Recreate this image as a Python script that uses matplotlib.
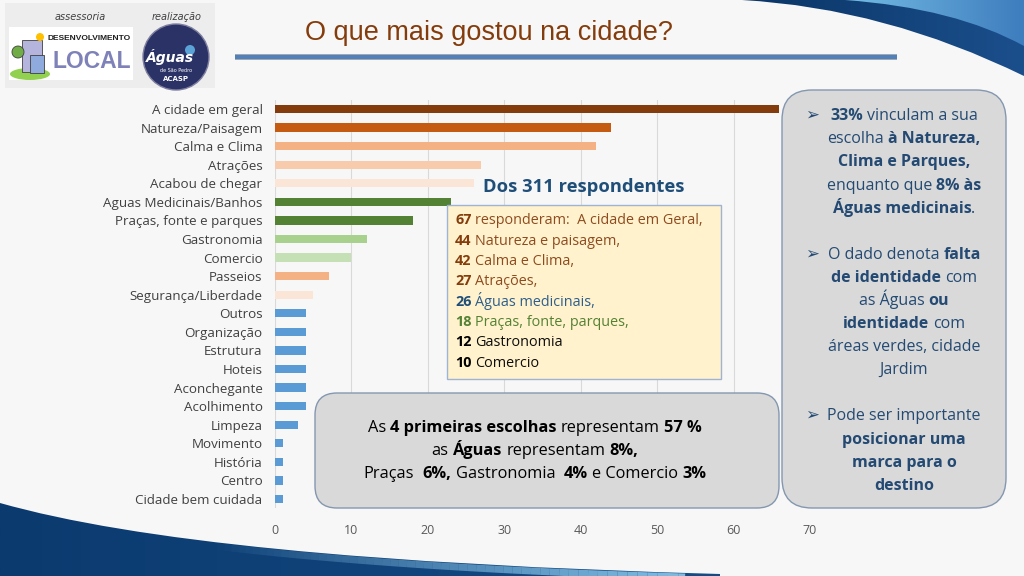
import numpy as np
import matplotlib.pyplot as plt
from matplotlib.path import Path
from matplotlib.patches import PathPatch, FancyBboxPatch, Rectangle, Circle, Ellipse
from matplotlib.collections import LineCollection
from matplotlib.colors import LinearSegmentedColormap

# ---- data ----
categories = ['A cidade em geral', 'Natureza/Paisagem', 'Calma e Clima', 'Atrações',
              'Acabou de chegar', 'Aguas Medicinais/Banhos', 'Praças, fonte e parques',
              'Gastronomia', 'Comercio', 'Passeios', 'Segurança/Liberdade', 'Outros',
              'Organização', 'Estrutura', 'Hoteis', 'Aconchegante', 'Acolhimento',
              'Limpeza', 'Movimento', 'História', 'Centro', 'Cidade bem cuidada']
values = [66, 44, 42, 27, 26, 23, 18, 12, 10, 7, 5, 4, 4, 4, 4, 4, 4, 3, 1, 1, 1, 1]
bar_colors = ['#843C0C', '#C55A11', '#F4B183', '#F8CBAD', '#FBE5D6', '#548235',
              '#548235', '#A9D18E', '#C5E0B4', '#F4B183', '#FBE5D6'] + ['#5B9BD5'] * 11
xticks = [0, 10, 20, 30, 40, 50, 60, 70]

FONT = ['Open Sans', 'DejaVu Sans']
BR, BRT = '#843C0C', '#8E4B20'
BL, BLT = '#1F4E79', '#2E5E8E'
GR = '#548235'
NAVY = '#244A73'

fig = plt.figure(figsize=(10.24, 5.76), dpi=100, facecolor='#F7F7F7')

# background layer in pixel coordinates
bg = fig.add_axes([0, 0, 1, 1], zorder=0)
bg.set_autoscale_on(False)
bg.set_xlim(0, 1024)
bg.set_ylim(576, 0)
bg.axis('off')


def grad_fill(ax, verts, codes, c1, c2, extent, z):
    patch = PathPatch(Path(verts, codes), facecolor='none', edgecolor='none')
    ax.add_patch(patch)
    g = np.linspace(0, 1, 256).reshape(1, -1)
    cmap = LinearSegmentedColormap.from_list('g', [c1, c2])
    im = ax.imshow(g, extent=extent, cmap=cmap, aspect='auto', zorder=z)
    im.set_clip_path(patch)


M, L, C3, CL = Path.MOVETO, Path.LINETO, Path.CURVE3, Path.CLOSEPOLY
# top right swoosh
grad_fill(bg, [(742, 0), (1024, 0), (1024, 76), (885, 8), (742, 0), (742, 0)],
          [M, L, L, C3, C3, CL], '#0A3566', '#1B4F8C', (742, 1024, 80, 0), 1)
grad_fill(bg, [(845, 0), (1024, 0), (1024, 46), (955, 8), (845, 0), (845, 0)],
          [M, L, L, C3, C3, CL], '#74BCE4', '#3E7DBE', (845, 1024, 50, 0), 2)
# bottom left swoosh
p0, pc, p1 = np.array([0, 503]), np.array([200, 560]), np.array([720, 574])
grad_fill(bg, [tuple(p0), tuple(pc), tuple(p1), (720, 576), (0, 576), tuple(p0)],
          [M, C3, C3, L, L, CL], '#0B3A6E', '#154C86', (0, 720, 576, 500), 1)
t = np.linspace(0.4, 1, 60)[:, None]
edge = (1 - t) ** 2 * p0 + 2 * t * (1 - t) * pc + t ** 2 * p1
pts = np.column_stack([edge[:, 0], edge[:, 1] + 4]).reshape(-1, 1, 2)
segs = np.concatenate([pts[:-1], pts[1:]], axis=1)
alphas = np.linspace(0, 0.95, len(segs))
lc = LineCollection(segs, colors=[(0.55, 0.79, 0.93, a) for a in alphas], linewidths=5,
                    zorder=2)
bg.add_collection(lc)

# ---- bar chart ----
ax = fig.add_axes([275 / 1024, (576 - 508.3) / 576, 535 / 1024, 408.6 / 576], zorder=1)
ax.patch.set_alpha(0)
y = np.arange(len(categories))
ax.barh(y, values, height=0.45, color=bar_colors, zorder=2)
ax.set_ylim(len(categories) - 0.5, -0.5)
ax.set_xlim(0, 70)
ax.set_xticks(xticks)
ax.set_xticklabels([str(v) for v in xticks], fontsize=9, color='#595959', family=FONT)
ax.set_yticks(y)
ax.set_yticklabels(categories, fontsize=9.6, color='#404040', family=FONT)
ax.tick_params(axis='y', length=0, pad=9)
ax.tick_params(axis='x', length=0, pad=11)
ax.grid(axis='x', color='#D9D9D9', lw=0.8, zorder=0)
for s in ax.spines.values():
    s.set_visible(False)

# ---- overlay: boxes and texts ----
ov = fig.add_axes([0, 0, 1, 1], zorder=3)
ov.set_xlim(0, 1024)
ov.set_ylim(576, 0)
ov.axis('off')
ov.patch.set_alpha(0)
rend = fig.canvas.get_renderer()


def text_w(s, bold, size):
    t = ov.text(0, 0, s, fontsize=size, weight='bold' if bold else 'normal', family=FONT)
    w = t.get_window_extent(renderer=rend).width
    t.remove()
    return w


def rich(x, y, runs, size, ha='left'):
    sp = text_w('a a', False, size) - text_w('aa', False, size)
    pieces, total = [], 0
    for s, b, c in runs:
        core = s.strip(' ')
        lead = len(s) - len(s.lstrip(' '))
        trail = len(s) - len(s.rstrip(' '))
        w = text_w(core, b, size)
        pieces.append((total + lead * sp, core, b, c))
        total += lead * sp + w + trail * sp
    x0 = x - total / 2 if ha == 'center' else x
    for off, core, b, c in pieces:
        ov.text(x0 + off, y, core, fontsize=size, weight='bold' if b else 'normal',
                color=c, family=FONT, va='baseline', ha='left')


# logos
ov.add_patch(Rectangle((5, 3), 210, 85, facecolor='#EDEDED', edgecolor='none'))
ov.text(80, 17, 'assessoria', fontsize=7, style='italic', color='#404040', ha='center', va='center')
ov.text(177, 17, 'realização', fontsize=7, style='italic', color='#404040', ha='center', va='center')
ov.add_patch(Rectangle((9, 27), 124, 53, facecolor='white', edgecolor='none'))
ov.add_patch(Ellipse((30, 74), 40, 12, facecolor='#92D050', edgecolor='none'))
ov.add_patch(Rectangle((22, 40), 20, 32, facecolor='#B4B4DC', edgecolor='#404040', lw=0.6))
ov.add_patch(Rectangle((30, 55), 14, 18, facecolor='#8FAADC', edgecolor='#404040', lw=0.6))
ov.add_patch(Circle((18, 52), 6, facecolor='#70AD47', edgecolor='#404040', lw=0.6))
ov.add_patch(Circle((40, 37), 4, facecolor='#FFC000', edgecolor='none'))
ov.text(48, 39, 'DESENVOLVIMENTO', fontsize=6, weight='bold', color='#202020',
        family='Liberation Sans', va='center')
ov.text(53, 61, 'LOCAL', fontsize=16.5, weight='bold', color='#7F82B8', family='Liberation Sans',
        va='center')
ov.add_patch(Circle((176, 57), 33, facecolor='#2B3366', edgecolor='#7F7FA0', lw=1))
ov.text(170, 57, 'Águas', fontsize=10, weight='bold', style='italic', color='white',
        ha='center', va='center')
ov.text(176, 70, 'de São Pedro', fontsize=3.5, color='white', ha='center', va='center')
ov.text(176, 79, 'ACASP', fontsize=5, weight='bold', color='white', ha='center', va='center')
ov.add_patch(Circle((190, 50), 5, facecolor='#5BA3D6', edgecolor='none'))

# title
ov.text(305, 33, 'O que mais gostou na cidade?', fontsize=19.5, color='#843C0C',
        family='Liberation Sans', va='center', ha='left')
ov.plot([235, 897], [57, 57], color='#A6A6A6', lw=4.2, solid_capstyle='butt')
ov.plot([235, 897], [57, 57], color='#4F81BD', lw=3, solid_capstyle='butt')

# "Dos 311 respondentes"
ov.text(584, 187, 'Dos 311 respondentes', fontsize=13.2, weight='bold', color=BL,
        family=FONT, ha='center', va='center')

# yellow box
ov.add_patch(Rectangle((447, 205), 274, 174, facecolor='#FFF2CC', edgecolor='#9FB4D4', lw=1))
yellow_lines = [
    [('67', True, BR), (' responderam:  A cidade em Geral,', False, BRT)],
    [('44', True, BR), (' Natureza e paisagem,', False, BRT)],
    [('42', True, BR), (' Calma e Clima,', False, BRT)],
    [('27', True, BR), (' Atrações,', False, BRT)],
    [('26', True, BL), (' Águas medicinais,', False, BLT)],
    [('18', True, GR), (' Praças, fonte, parques,', False, GR)],
    [('12', True, '#000000'), (' Gastronomia', False, '#0D0D0D')],
    [('10', True, '#000000'), (' Comercio', False, '#0D0D0D')],
]
for i, runs in enumerate(yellow_lines):
    rich(455, 224.5 + i * 20.3, runs, 10.4)

# bottom grey box
ov.add_patch(FancyBboxPatch((315, 393), 464, 115, boxstyle='round,pad=0,rounding_size=22',
                            facecolor='#D9D9D9', edgecolor='#8497B0', lw=1))
bottom_lines = [
    [('As ', False, 'k'), ('4 primeiras escolhas', True, 'k'), (' representam ', False, 'k'), ('57 %', True, 'k')],
    [('as ', False, 'k'), ('Águas', True, 'k'), (' representam ', False, 'k'), ('8%,', True, 'k')],
    [('Praças  ', False, 'k'), ('6%,', True, 'k'), (' Gastronomia  ', False, 'k'), ('4%', True, 'k'),
     (' e Comercio ', False, 'k'), ('3%', True, 'k')],
]
for i, runs in enumerate(bottom_lines):
    rich(535, 432 + i * 23, runs, 11.8, ha='center')

# right grey box
ov.add_patch(FancyBboxPatch((782, 90), 224, 418, boxstyle='round,pad=0,rounding_size=30',
                            facecolor='#D9D9D9', edgecolor='#8497B0', lw=1))
right_lines = [
    (115, [('33%', True, NAVY), (' vinculam a sua', False, NAVY)], True),
    (138, [('escolha ', False, NAVY), ('à Natureza,', True, NAVY)], False),
    (161, [('Clima e Parques,', True, NAVY)], False),
    (185, [('enquanto que ', False, NAVY), ('8% às', True, NAVY)], False),
    (208, [('Águas medicinais', True, NAVY), ('.', False, NAVY)], False),
    (254, [('O dado denota ', False, NAVY), ('falta', True, NAVY)], True),
    (277, [('de identidade', True, NAVY), (' com', False, NAVY)], False),
    (300, [('as Águas ', False, NAVY), ('ou', True, NAVY)], False),
    (323, [('identidade', True, NAVY), (' com', False, NAVY)], False),
    (346, [('áreas verdes, cidade', False, NAVY)], False),
    (369, [('Jardim', False, NAVY)], False),
    (415, [('Pode ser importante', False, NAVY)], True),
    (439, [('posicionar uma', True, NAVY)], False),
    (462, [('marca para o', True, NAVY)], False),
    (485, [('destino', True, NAVY)], False),
]
for yy, runs, bullet in right_lines:
    rich(904, yy + 5, runs, 11.5, ha='center')
    if bullet:
        ov.text(812, yy, '➢', fontsize=12, color=NAVY, family=['DejaVu Sans'],
                ha='center', va='center')

fig.savefig('out.png', dpi=100, facecolor=fig.get_facecolor())
